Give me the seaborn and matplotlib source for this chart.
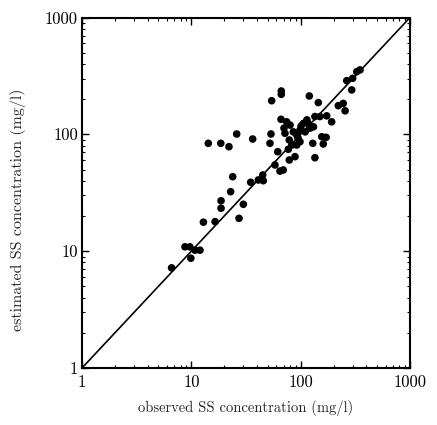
import matplotlib
matplotlib.use("Agg")
import matplotlib.pyplot as plt
import seaborn as sns
import pandas as pd
from matplotlib.ticker import LogLocator, FixedLocator, FixedFormatter, NullFormatter

observed = [6.6, 8.75, 9.7, 10.8, 12.0, 9.9, 12.9, 16.5, 27.3, 29.9,
            18.7, 18.7, 22.9, 23.9, 34.9, 41.0, 45.0, 45.5, 14.3, 18.6,
            22.1, 26.0, 36.4, 53.5, 52.4, 54.3, 66.5, 66.5, 61.7, 58.2,
            64.7, 69.3, 66.1, 74.5, 71.9, 78.7, 77.1, 78.7, 88.8, 92.0,
            92.0, 98.6, 106, 114, 122, 131, 120, 145, 135, 150,
            173, 192, 129, 135, 156, 171, 161, 221, 245, 255,
            264, 299, 293, 326, 349, 98.6, 85.7, 70.4, 117, 80,
            94.6, 110, 83, 101]
estimated = [7.2, 10.9, 10.9, 10.2, 10.2, 8.7, 17.7, 17.9, 19.1, 25.2,
             27.0, 23.3, 32.3, 43.4, 38.9, 40.7, 44.9, 40.1, 83.8, 83.8,
             78.4, 100.7, 91.2, 100.7, 83.8, 194, 235, 220, 71.0, 54.7,
             48.5, 49.5, 134.5, 128, 102, 89.5, 74.5, 60.3, 64.4, 81.1,
             98.7, 109, 124, 133, 113, 116, 213, 187, 142, 142,
             144, 128, 83.8, 63.1, 95.5, 94.3, 82.7, 176, 184, 159,
             288, 302, 240, 344, 356, 86.5, 105, 113, 124, 120,
             93, 105, 81, 118]
line_x = [1, 1000]
line_y = [1, 1000]
tick_values = [1, 10, 100, 1000]
tick_labels = ["1", "10", "100", "1000"]

df = pd.DataFrame({"observed": observed, "estimated": estimated})

sns.set_style("ticks")
plt.rcParams["font.family"] = ["cmr10", "DejaVu Serif"]
plt.rcParams["axes.formatter.use_mathtext"] = True

fig = plt.figure(figsize=(4.37, 4.25), dpi=100)
ax = fig.add_axes([0.1876, 0.1341, 0.7506, 0.8247])

ax.plot(line_x, line_y, color="black", lw=1.2, zorder=1)
sns.scatterplot(data=df, x="observed", y="estimated", ax=ax, color="black",
                s=30, edgecolor="none", zorder=2, legend=False)

ax.set_xscale("log")
ax.set_yscale("log")
ax.set_xlim(1, 1000)
ax.set_ylim(1, 1000)

for axis in (ax.xaxis, ax.yaxis):
    axis.set_major_locator(FixedLocator(tick_values))
    axis.set_major_formatter(FixedFormatter(tick_labels))
    axis.set_minor_locator(LogLocator(base=10, subs=range(2, 10)))
    axis.set_minor_formatter(NullFormatter())

ax.tick_params(which="both", direction="in", top=True, right=True,
               colors="black", labelsize=12)
ax.tick_params(which="major", length=5, width=1.0)
ax.tick_params(which="minor", length=2.5, width=0.8)
ax.tick_params(axis="x", pad=5)
ax.tick_params(axis="y", pad=3)
for sp in ax.spines.values():
    sp.set_linewidth(1.5)
    sp.set_color("black")

ax.set_xlabel("observed SS concentration (mg/l)", fontsize=10.5, labelpad=7)
ax.set_ylabel("estimated SS concentration (mg/l)", fontsize=11.5)
ax.yaxis.set_label_coords(-0.17, 0.45)

fig.savefig("out.png", dpi=100)
